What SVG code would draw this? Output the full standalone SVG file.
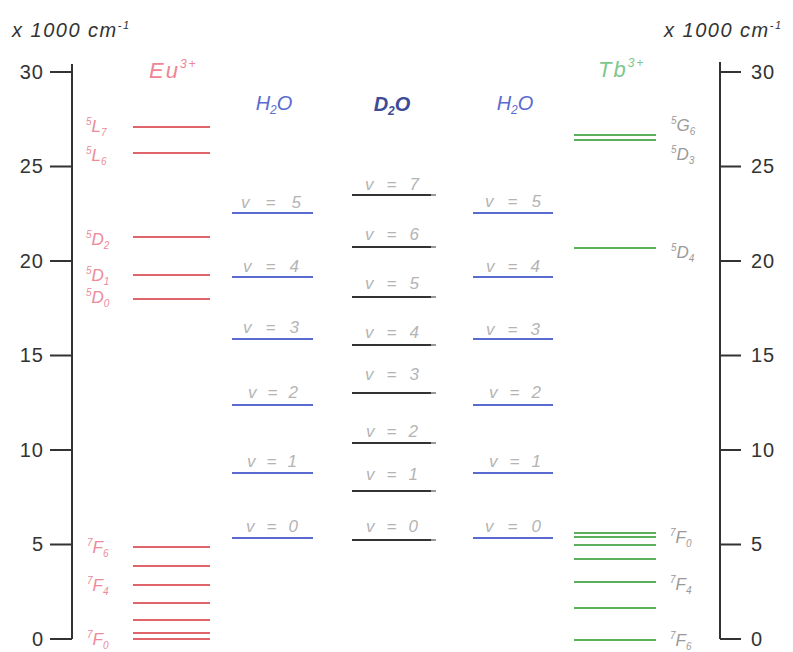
<svg xmlns="http://www.w3.org/2000/svg" width="793" height="652" viewBox="0 0 793 652">
<style>
.ax{stroke:#333;stroke-width:2;fill:none}
.num{font-family:"Liberation Sans",Arial,sans-serif;font-size:20px;fill:#333;letter-spacing:1px}
.unit{font-family:"Liberation Sans",Arial,sans-serif;font-style:italic;font-size:20px;fill:#333;letter-spacing:1.5px}
.eu{stroke:#e0646a;stroke-width:2}
.eul{font-family:"Liberation Sans",Arial,sans-serif;font-style:italic;font-size:17px;fill:#ec8a98}
.bl{stroke:#5a6ad0;stroke-width:2}
.dk{stroke:#333;stroke-width:2}
.tail{stroke:#999;stroke-width:2}
.gr{stroke:#5cb05c;stroke-width:2.2}
.tbl{font-family:"Liberation Sans",Arial,sans-serif;font-style:italic;font-size:17px;fill:#9a9a9a}
.v{font-family:"Liberation Sans",Arial,sans-serif;font-style:italic;font-size:17px;fill:#b4b4b4;text-anchor:middle}
.hdr{font-family:"Liberation Sans",Arial,sans-serif;font-style:italic;font-size:20px;text-anchor:middle}
.ion{font-family:"Liberation Sans",Arial,sans-serif;font-style:italic;font-size:22px;letter-spacing:2px}
</style>

<g id="axis-left">
  <text class="unit" x="12" y="37">x 1000 cm<tspan font-size="11" dy="-8">-1</tspan></text>
  <path class="ax" d="M72 64 V639 M50 72 H72 M50 166.5 H72 M50 261 H72 M50 355.5 H72 M50 450 H72 M50 544.5 H72 M50 639 H72"/>
  <g class="num" text-anchor="end">
    <text x="44" y="79">30</text>
    <text x="44" y="173">25</text>
    <text x="44" y="268">20</text>
    <text x="44" y="362">15</text>
    <text x="44" y="457">10</text>
    <text x="44" y="551">5</text>
    <text x="44" y="646">0</text>
  </g>
</g>

<g id="axis-right">
  <text class="unit" x="664" y="37">x 1000 cm<tspan font-size="11" dy="-8">-1</tspan></text>
  <path class="ax" d="M720 62 V639 M720 72 H741 M720 166.5 H741 M720 261 H741 M720 355.5 H741 M720 450 H741 M720 544.5 H741 M720 639 H741"/>
  <g class="num">
    <text x="751" y="79">30</text>
    <text x="751" y="173">25</text>
    <text x="751" y="268">20</text>
    <text x="751" y="362">15</text>
    <text x="751" y="457">10</text>
    <text x="751" y="551">5</text>
    <text x="751" y="646">0</text>
  </g>
</g>

<g id="eu">
  <text class="ion" x="149" y="78" fill="#f08494">Eu<tspan font-size="12" dy="-10">3+</tspan></text>
  <g class="eu">
    <line x1="133" y1="127" x2="210" y2="127"/>
    <line x1="133" y1="153" x2="210" y2="153"/>
    <line x1="133" y1="237" x2="210" y2="237"/>
    <line x1="133" y1="275" x2="210" y2="275"/>
    <line x1="133" y1="299" x2="210" y2="299"/>
    <line x1="133" y1="547" x2="210" y2="547"/>
    <line x1="133" y1="566" x2="210" y2="566"/>
    <line x1="133" y1="585" x2="210" y2="585"/>
    <line x1="133" y1="603" x2="210" y2="603"/>
    <line x1="133" y1="620" x2="210" y2="620"/>
    <line x1="133" y1="633" x2="210" y2="633"/>
    <line x1="133" y1="639" x2="210" y2="639"/>
  </g>
  <text class="eul" x="86" y="132"><tspan font-size="10" dy="-7">5</tspan><tspan dy="7">L</tspan><tspan font-size="10" dy="4">7</tspan></text>
  <text class="eul" x="86" y="161"><tspan font-size="10" dy="-7">5</tspan><tspan dy="7">L</tspan><tspan font-size="10" dy="4">6</tspan></text>
  <text class="eul" x="86" y="245"><tspan font-size="10" dy="-7">5</tspan><tspan dy="7">D</tspan><tspan font-size="10" dy="4">2</tspan></text>
  <text class="eul" x="86" y="281"><tspan font-size="10" dy="-7">5</tspan><tspan dy="7">D</tspan><tspan font-size="10" dy="4">1</tspan></text>
  <text class="eul" x="86" y="303"><tspan font-size="10" dy="-7">5</tspan><tspan dy="7">D</tspan><tspan font-size="10" dy="4">0</tspan></text>
  <text class="eul" x="87" y="553"><tspan font-size="10" dy="-7">7</tspan><tspan dy="7">F</tspan><tspan font-size="10" dy="4">6</tspan></text>
  <text class="eul" x="87" y="591"><tspan font-size="10" dy="-7">7</tspan><tspan dy="7">F</tspan><tspan font-size="10" dy="4">4</tspan></text>
  <text class="eul" x="87" y="645"><tspan font-size="10" dy="-7">7</tspan><tspan dy="7">F</tspan><tspan font-size="10" dy="4">0</tspan></text>
</g>

<g id="h2o-left">
  <text class="hdr" x="274" y="110" fill="#5a6ad0">H<tspan font-size="12" dy="4">2</tspan><tspan dy="-4">O</tspan></text>
  <g class="bl">
    <line x1="232" y1="213" x2="313" y2="213"/>
    <line x1="232" y1="277" x2="313" y2="277"/>
    <line x1="232" y1="339" x2="313" y2="339"/>
    <line x1="232" y1="405" x2="313" y2="405"/>
    <line x1="232" y1="473" x2="313" y2="473"/>
    <line x1="232" y1="538" x2="313" y2="538"/>
  </g>
  <g class="v">
    <text x="271" y="208" textLength="60" lengthAdjust="spacing">v = 5</text>
    <text x="271" y="272" textLength="56" lengthAdjust="spacing">v = 4</text>
    <text x="271" y="333" textLength="56" lengthAdjust="spacing">v = 3</text>
    <text x="273" y="398" textLength="50" lengthAdjust="spacing">v = 2</text>
    <text x="272" y="467" textLength="50" lengthAdjust="spacing">v = 1</text>
    <text x="272" y="532" textLength="52" lengthAdjust="spacing">v = 0</text>
  </g>
</g>

<g id="d2o">
  <text class="hdr" x="392" y="111" fill="#3d4b96" font-weight="bold">D<tspan font-size="12" dy="4">2</tspan><tspan dy="-4">O</tspan></text>
  <g class="dk">
    <line x1="352" y1="195" x2="431" y2="195"/>
    <line x1="352" y1="247" x2="431" y2="247"/>
    <line x1="352" y1="297" x2="431" y2="297"/>
    <line x1="352" y1="345" x2="431" y2="345"/>
    <line x1="352" y1="393" x2="431" y2="393"/>
    <line x1="352" y1="443" x2="431" y2="443"/>
    <line x1="352" y1="491" x2="431" y2="491"/>
    <line x1="352" y1="540" x2="431" y2="540"/>
  </g>
  <g class="tail">
    <line x1="431" y1="195" x2="436" y2="195"/>
    <line x1="431" y1="247" x2="436" y2="247"/>
    <line x1="431" y1="297" x2="436" y2="297"/>
    <line x1="431" y1="345" x2="436" y2="345"/>
    <line x1="431" y1="393" x2="436" y2="393"/>
    <line x1="431" y1="443" x2="436" y2="443"/>
    <line x1="431" y1="491" x2="436" y2="491"/>
    <line x1="431" y1="540" x2="436" y2="540"/>
  </g>
  <g class="v">
    <text x="392" y="190" textLength="54" lengthAdjust="spacing">v = 7</text>
    <text x="392" y="240" textLength="54" lengthAdjust="spacing">v = 6</text>
    <text x="392" y="289" textLength="54" lengthAdjust="spacing">v = 5</text>
    <text x="392" y="338" textLength="54" lengthAdjust="spacing">v = 4</text>
    <text x="392" y="380" textLength="54" lengthAdjust="spacing">v = 3</text>
    <text x="392" y="437" textLength="52" lengthAdjust="spacing">v = 2</text>
    <text x="392" y="480" textLength="52" lengthAdjust="spacing">v = 1</text>
    <text x="392" y="532" textLength="52" lengthAdjust="spacing">v = 0</text>
  </g>
</g>

<g id="h2o-right">
  <text class="hdr" x="515" y="110" fill="#5a6ad0">H<tspan font-size="12" dy="4">2</tspan><tspan dy="-4">O</tspan></text>
  <g class="bl">
    <line x1="473" y1="213" x2="553" y2="213"/>
    <line x1="473" y1="277" x2="553" y2="277"/>
    <line x1="473" y1="339" x2="553" y2="339"/>
    <line x1="473" y1="405" x2="553" y2="405"/>
    <line x1="473" y1="473" x2="553" y2="473"/>
    <line x1="473" y1="538" x2="553" y2="538"/>
  </g>
  <g class="v">
    <text x="513" y="207" textLength="56" lengthAdjust="spacing">v = 5</text>
    <text x="513" y="272" textLength="54" lengthAdjust="spacing">v = 4</text>
    <text x="513" y="335" textLength="54" lengthAdjust="spacing">v = 3</text>
    <text x="515" y="398" textLength="52" lengthAdjust="spacing">v = 2</text>
    <text x="515" y="467" textLength="52" lengthAdjust="spacing">v = 1</text>
    <text x="513" y="532" textLength="56" lengthAdjust="spacing">v = 0</text>
  </g>
</g>

<g id="tb">
  <text class="ion" x="598" y="77" fill="#7cc88c">Tb<tspan font-size="12" dy="-10">3+</tspan></text>
  <g class="gr">
    <line x1="574" y1="135" x2="656" y2="135"/>
    <line x1="574" y1="140" x2="656" y2="140"/>
    <line x1="574" y1="248" x2="656" y2="248"/>
    <line x1="574" y1="533" x2="656" y2="533"/>
    <line x1="574" y1="537" x2="656" y2="537"/>
    <line x1="574" y1="545" x2="656" y2="545"/>
    <line x1="574" y1="559" x2="656" y2="559"/>
    <line x1="574" y1="582" x2="656" y2="582"/>
    <line x1="574" y1="608" x2="656" y2="608"/>
    <line x1="574" y1="640" x2="656" y2="640"/>
  </g>
  <text class="tbl" x="671" y="131"><tspan font-size="10" dy="-7">5</tspan><tspan dy="7">G</tspan><tspan font-size="10" dy="4">6</tspan></text>
  <text class="tbl" x="671" y="160"><tspan font-size="10" dy="-7">5</tspan><tspan dy="7">D</tspan><tspan font-size="10" dy="4">3</tspan></text>
  <text class="tbl" x="671" y="258"><tspan font-size="10" dy="-7">5</tspan><tspan dy="7">D</tspan><tspan font-size="10" dy="4">4</tspan></text>
  <text class="tbl" x="670" y="543"><tspan font-size="10" dy="-7">7</tspan><tspan dy="7">F</tspan><tspan font-size="10" dy="4">0</tspan></text>
  <text class="tbl" x="670" y="590"><tspan font-size="10" dy="-7">7</tspan><tspan dy="7">F</tspan><tspan font-size="10" dy="4">4</tspan></text>
  <text class="tbl" x="670" y="646"><tspan font-size="10" dy="-7">7</tspan><tspan dy="7">F</tspan><tspan font-size="10" dy="4">6</tspan></text>
</g>
</svg>
